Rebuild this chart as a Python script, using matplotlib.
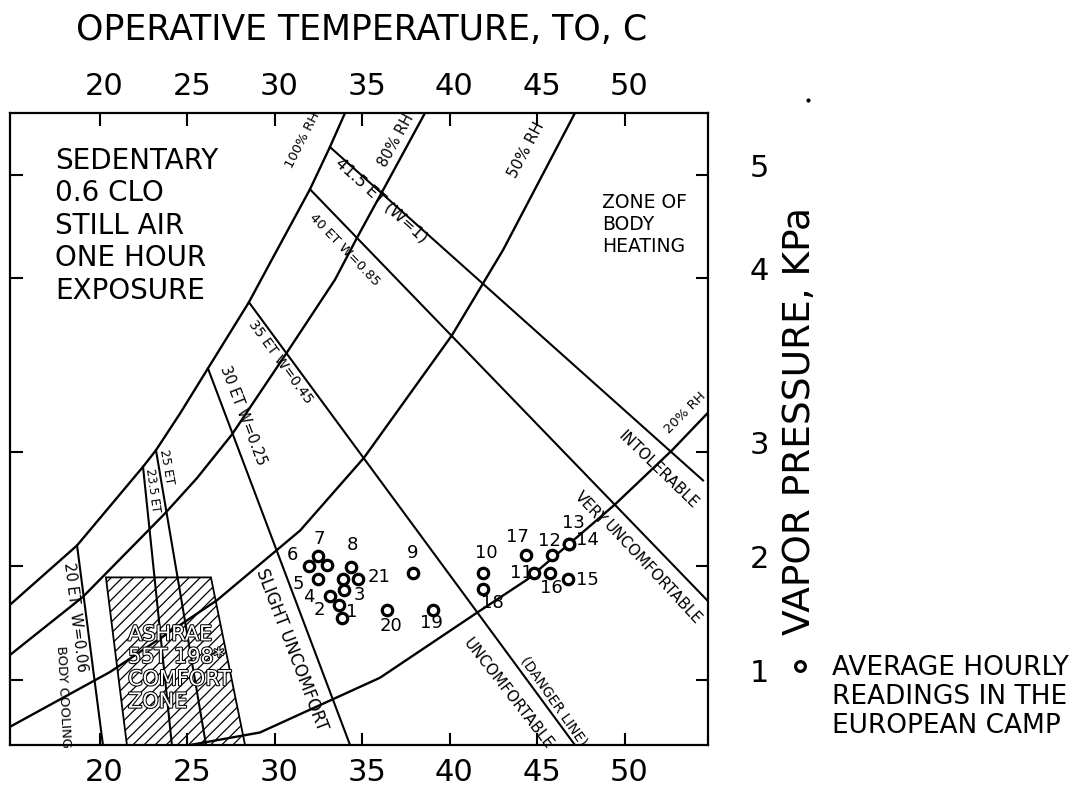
import numpy as np
import matplotlib
matplotlib.use('Agg')
import matplotlib.pyplot as plt
from matplotlib.lines import Line2D
from matplotlib.patches import Polygon
from matplotlib.transforms import ScaledTranslation
from matplotlib import patheffects

plt.rcParams['font.family'] = ['DejaVu Sans']
plt.rcParams['hatch.linewidth'] = 0.9

# hourly readings: operative temperature (C) and vapor pressure (kPa)
point_labels = ['1', '2', '3', '4', '5', '6', '7', '', '8', '', '21', '9', '20', '19',
                '10', '18', '17', '11', '12', '13', '14', '16', '15']
point_temp = [33.83, 33.66, 33.94, 33.14, 32.46, 31.94, 32.46, 32.97, 34.34, 33.89, 34.74,
              37.89, 36.40, 39.03, 41.89, 41.89, 44.34, 44.80, 45.83, 46.80, 46.80, 45.71, 46.74]
point_vp = [1.54, 1.66, 1.79, 1.74, 1.89, 2.00, 2.09, 2.01, 1.99, 1.89, 1.89,
            1.94, 1.61, 1.61, 1.94, 1.80, 2.10, 1.94, 2.10, 2.19, 2.19, 1.94, 1.89]

# relative humidity curves
rh100_t = [14.86, 18.69, 22.46, 23.20, 24.57, 26.17, 28.51, 29.83, 32.00, 33.14, 34.00]
rh100_vp = [1.66, 2.18, 2.87, 3.01, 3.22, 3.48, 3.86, 4.18, 4.86, 5.27, 5.60]
rh80_t = [14.86, 19.03, 23.71, 25.54, 27.54, 30.74, 33.43, 34.69, 36.17, 38.57]
rh80_vp = [1.22, 1.73, 2.46, 2.77, 3.10, 3.58, 3.99, 4.39, 4.85, 5.60]
rh50_t = [14.86, 20.57, 26.69, 31.43, 35.09, 40.11, 43.03, 47.14]
rh50_vp = [0.59, 1.07, 1.70, 2.31, 2.95, 3.67, 4.27, 5.60]
rh20_t = [25.14, 29.14, 36.00, 41.54, 44.40, 46.86, 49.43, 52.69, 54.69]
rh20_vp = [0.43, 0.54, 1.02, 1.59, 1.88, 2.20, 2.54, 3.01, 3.22]

# effective temperature lines (start on saturation curve, end at border)
et_t_start = [18.69, 22.46, 23.20, 26.17, 28.51, 32.00, 33.14]
et_vp_start = [2.18, 2.87, 3.01, 3.48, 3.86, 4.86, 5.27]
et_t_end = [20.17, 24.11, 26.06, 34.29, 47.14, 54.69, 54.46]
et_vp_end = [0.43, 0.43, 0.43, 0.43, 0.43, 1.70, 2.75]

# ASHRAE comfort zone
zone_t = [20.34, 26.34, 28.29, 21.54]
zone_vp = [1.90, 1.90, 0.43, 0.43]

# vapor pressure axis of the original is not evenly spaced
vp_knots = [0, 1, 2, 3, 4, 5, 7]
h_knots = [-49, 65, 179, 293, 467, 570, 776]


def fwd(v):
    return np.interp(v, vp_knots, h_knots)


def inv(h):
    return np.interp(h, h_knots, vp_knots)


fig = plt.figure(figsize=(10.88, 7.97), dpi=100)
ax = fig.add_axes([0.0092, 0.0652, 0.6415, 0.793])
ax.set_yscale('function', functions=(fwd, inv))
ax.set_xlim(14.86, 54.74)
ax.set_ylim(0.43, 5.60)

lw = 1.7
zone = Polygon(list(zip(zone_t, zone_vp)), closed=True, facecolor='white',
               edgecolor='black', hatch='///', linewidth=1.3, zorder=1)
ax.add_patch(zone)

for t, v in [(rh100_t, rh100_vp), (rh80_t, rh80_vp), (rh50_t, rh50_vp), (rh20_t, rh20_vp)]:
    ax.plot(t, v, color='black', lw=lw, zorder=2, solid_joinstyle='round')

for i in range(len(et_t_start)):
    ax.plot([et_t_start[i], et_t_end[i]], [et_vp_start[i], et_vp_end[i]],
            color='black', lw=1.5, zorder=2)

ax.plot(point_temp, point_vp, 'o', ms=7.5, mfc='white', mec='black', mew=2.3, zorder=4)

offsets = {'1': (7, 5), '2': (-14, -4), '3': (11, -4), '4': (-15, -1), '5': (-14, -4),
           '6': (-12, 8), '7': (1, 12), '8': (1, 16), '21': (15, 1), '9': (0, 14),
           '20': (3, -11), '19': (-1, -9), '10': (2, 14), '18': (7, -10), '17': (-6, 13),
           '11': (-9, 0), '12': (-2, 10), '13': (3, 15), '14': (13, 3), '16': (1, -11),
           '15': (14, -1)}
for lab, t, v in zip(point_labels, point_temp, point_vp):
    if lab:
        ax.annotate(lab, (t, v), xytext=offsets[lab], textcoords='offset points',
                    ha='center', va='center', fontsize=13, zorder=5)

# axes, ticks
for s in ax.spines.values():
    s.set_linewidth(1.6)
ax.set_xticks([20, 25, 30, 35, 40, 45, 50])
ax.set_yticks([1, 2, 3, 4, 5])
ax.yaxis.set_minor_locator(matplotlib.ticker.NullLocator())
ax.tick_params(axis='x', direction='in', top=True, bottom=True, labeltop=True,
               labelbottom=True, length=9, width=1.5, labelsize=22, pad=9)
ax.tick_params(axis='y', direction='in', left=True, right=True, labelleft=False,
               labelright=True, length=9, width=1.5, labelsize=22, pad=30)
for lab in ax.get_yticklabels():
    lab.set_transform(lab.get_transform() + ScaledTranslation(0, 7 / 72, fig.dpi_scale_trans))
for lab in ax.get_xticklabels():
    lab.set_transform(lab.get_transform() + ScaledTranslation(3 / 72, 0, fig.dpi_scale_trans))


# text on the chart
def atext(x, y, s, **kw):
    ax.text((x - 10) / 698, (745 - y) / 632, s, transform=ax.transAxes,
            ha=kw.pop('ha', 'center'), va=kw.pop('va', 'center'), **kw)


atext(55, 147, 'SEDENTARY\n0.6 CLO\nSTILL AIR\nONE HOUR\nEXPOSURE', ha='left', va='top',
      fontsize=20, linespacing=1.2)
atext(602, 193, 'ZONE OF\nBODY\nHEATING', ha='left', va='top', fontsize=13.5, linespacing=1.2)
atext(303, 140, '100% RH', rotation=63, fontsize=9.5)
atext(396, 140, '80% RH', rotation=61, fontsize=10.5)
atext(526, 150, '50% RH', rotation=62, fontsize=11)
atext(685, 413, '20% RH', rotation=45, fontsize=9.5)
atext(382, 200, '41.5 ET (W=1)', rotation=-42, fontsize=11.5)
atext(345, 250, '40 ET W=0.85', rotation=-46, fontsize=9.5)
atext(280, 362, '35 ET W=0.45', rotation=-54, fontsize=10)
atext(243, 415, '30 ET W=0.25', rotation=-69, fontsize=10.5)
atext(167, 467, '25 ET', rotation=-80, fontsize=9)
atext(153, 490, '23.5 ET', rotation=-82, fontsize=8.5)
atext(75, 617, '20 ET  W=0.06', rotation=-83, fontsize=10.5)
atext(63, 697, 'BODY COOLING', rotation=-87, fontsize=9.5)
atext(128, 668, 'ASHRAE\n55T 198*\nCOMFORT\nZONE', ha='left', fontsize=15, linespacing=1.15,
      color='white', path_effects=[patheffects.withStroke(linewidth=1.5, foreground='black')],
      zorder=3)
atext(292, 650, 'SLIGHT UNCOMFORT', rotation=-69, fontsize=12)
atext(508, 694, 'UNCOMFORTABLE', rotation=-52, fontsize=11)
atext(554, 701, '(DANGER LINE)', rotation=-55, fontsize=10)
atext(658, 470, 'INTOLERABLE', rotation=-44, fontsize=11)
atext(590, 508, 'VERY', rotation=-47, fontsize=11)
atext(652, 573, 'UNCOMFORTABLE', rotation=-47, fontsize=11)

# outside the frame
fig.text(0.332, 0.962, 'OPERATIVE TEMPERATURE, TO, C', ha='center', va='center', fontsize=25)
fig.text(0.735, 0.472, 'VAPOR PRESSURE, KPa', rotation=90, ha='center', va='center',
         fontsize=27)
fig.add_artist(Line2D([0.735], [0.164], marker='o', ms=7, mfc='white', mec='black', mew=2.3,
                      transform=fig.transFigure))
fig.text(0.765, 0.1255, 'AVERAGE HOURLY\nREADINGS IN THE\nEUROPEAN CAMP', ha='left',
         va='center', fontsize=19, linespacing=1.13)
fig.add_artist(Line2D([0.743], [0.875], marker='o', ms=2, color='black',
                      transform=fig.transFigure))

fig.savefig('out.png', dpi=100)
